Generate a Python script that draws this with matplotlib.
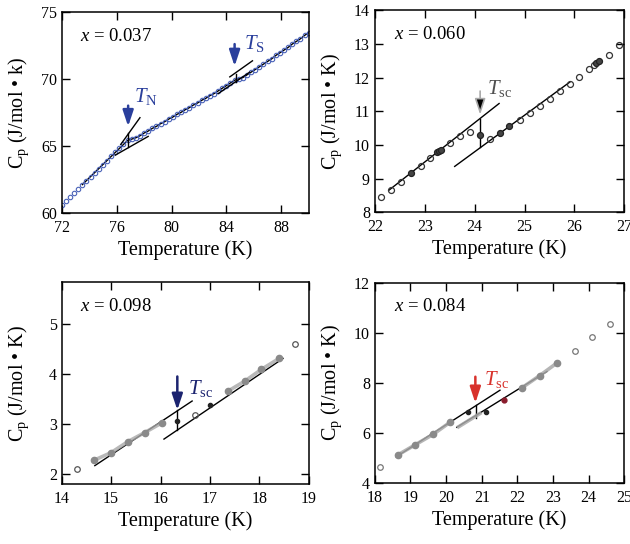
import matplotlib
matplotlib.use("Agg")
import matplotlib.pyplot as plt

plt.rcParams["font.family"] = ["Liberation Serif", "DejaVu Serif"]
plt.rcParams["mathtext.fontset"] = "custom"
plt.rcParams["mathtext.rm"] = "Liberation Serif"
plt.rcParams["mathtext.it"] = "Liberation Serif:italic"

# ---- x = 0.037 : dense scan with T_N and T_S kinks ----
t_037 = [72.0, 72.3, 72.6, 72.9, 73.2, 73.5, 73.8, 74.1, 74.4, 74.7, 75.0, 75.3,
         75.6, 75.9, 76.2, 76.5, 76.8, 77.1, 77.4, 77.7, 78.0, 78.3, 78.6, 78.9,
         79.2, 79.5, 79.8, 80.1, 80.4, 80.7, 81.0, 81.3, 81.6, 81.9, 82.2, 82.5,
         82.8, 83.1, 83.4, 83.7, 84.0, 84.3, 84.6, 84.9, 85.2, 85.5, 85.8, 86.1,
         86.4, 86.7, 87.0, 87.3, 87.6, 87.9, 88.2, 88.5, 88.8, 89.1, 89.4, 89.7, 90.0]
cp_037 = [60.6, 60.9, 61.2, 61.5, 61.8, 62.1, 62.4, 62.7, 63.0, 63.3, 63.6, 63.9,
          64.2, 64.5, 64.8, 65.1, 65.4, 65.5, 65.6, 65.75, 65.95, 66.1, 66.3, 66.45,
          66.65, 66.8, 67.0, 67.15, 67.35, 67.5, 67.7, 67.85, 68.05, 68.2, 68.4, 68.55,
          68.75, 68.9, 69.1, 69.3, 69.5, 69.7, 69.9, 70.0, 70.1, 70.3, 70.5, 70.7,
          70.9, 71.1, 71.3, 71.5, 71.75, 71.95, 72.15, 72.35, 72.6, 72.8, 73.0, 73.25, 73.45]
tn_steep = ([76.3, 77.7], [65.1, 67.1])
tn_flat = ([75.9, 78.3], [64.3, 65.7])
tn_step = ([76.84, 76.84], [64.9, 65.95])
ts_upper = ([84.25, 85.9], [70.15, 71.35])
ts_lower = ([83.4, 85.7], [68.9, 70.5])
ts_step = ([84.73, 84.73], [69.8, 70.4])

# ---- x = 0.060 ----
t_060_open = [22.13, 22.32, 22.52, 22.92, 23.10, 23.50, 23.70, 23.90, 24.31, 24.91,
              25.11, 25.31, 25.51, 25.71, 25.91, 26.10, 26.29, 26.39, 26.69, 26.89]
cp_060_open = [8.45, 8.66, 8.90, 9.38, 9.62, 10.07, 10.25, 10.38, 10.18, 10.75,
               10.95, 11.17, 11.37, 11.60, 11.82, 12.03, 12.27, 12.38, 12.68, 12.96]
t_060_fill = [22.72, 23.24, 23.28, 23.32, 24.11, 24.51, 24.69, 26.44, 26.49]
cp_060_fill = [9.16, 9.79, 9.82, 9.84, 10.30, 10.35, 10.55, 12.43, 12.48]
sc060_upper = ([22.28, 24.49], [8.65, 11.23])
sc060_lower = ([23.6, 25.91], [9.36, 11.87])
sc060_step = ([24.11, 24.11], [9.93, 10.78])

# ---- x = 0.098 ----
t_098_open = [14.30, 16.69, 18.72]
cp_098_open = [2.10, 3.19, 4.59]
t_098_gray_lo = [14.66, 15.00, 15.34, 15.68, 16.02]
cp_098_gray_lo = [2.28, 2.43, 2.65, 2.83, 3.02]
t_098_gray_hi = [17.37, 17.71, 18.04, 18.40]
cp_098_gray_hi = [3.66, 3.86, 4.09, 4.31]
t_098_black = [16.34, 17.01]
cp_098_black = [3.07, 3.39]
sc098_upper = ([14.67, 16.64], [2.17, 3.46])
sc098_lower = ([16.07, 18.48], [2.70, 4.31])
sc098_step = ([16.34, 16.34], [2.88, 3.28])

# ---- x = 0.084 ----
t_084_open = [18.14, 23.61, 24.09, 24.59]
cp_084_open = [4.65, 9.29, 9.82, 10.36]
t_084_gray_lo = [18.64, 19.12, 19.64, 20.11]
cp_084_gray_lo = [5.12, 5.52, 5.95, 6.43]
t_084_gray_mid = [20.35, 20.95]
cp_084_gray_mid = [6.25, 6.78]
t_084_gray_hi = [22.12, 22.62, 23.11]
cp_084_gray_hi = [7.80, 8.29, 8.80]
t_084_black = [20.62, 21.12]
cp_084_black = [6.85, 6.85]
t_084_red = [21.61]
cp_084_red = [7.32]
sc084_upper = ([18.6, 21.51], [5.05, 7.71])
sc084_lower = ([20.30, 22.83], [6.23, 8.46])
sc084_step = ([20.85, 20.85], [6.6, 7.12])

BLUE = "#2a3f9c"
NAVY = "#1c2470"
RED = "#d8322c"
GRAY = "#8a8a8a"
BAND = "#a8a8a8"

fig = plt.figure(figsize=(6.3, 5.44), dpi=100)
ax1 = fig.add_axes([0.098, 0.609, 0.392, 0.369])
ax2 = fig.add_axes([0.595, 0.610, 0.396, 0.371])
ax3 = fig.add_axes([0.098, 0.110, 0.392, 0.371])
ax4 = fig.add_axes([0.595, 0.112, 0.396, 0.368])


def style(ax, xlim, ylim, xticks, yticks, unit):
    ax.set_xlim(*xlim)
    ax.set_ylim(*ylim)
    ax.set_xticks(xticks)
    ax.set_yticks(yticks)
    ax.tick_params(direction="in", length=6, width=1, top=True, right=True,
                   labelsize=11.5)
    ax.tick_params(axis="x", pad=5)
    for s in ax.spines.values():
        s.set_linewidth(1.1)
    ax.set_xlabel("Temperature (K)", fontsize=14.5)
    ax.set_ylabel("C$_\\mathrm{p}$ (J/mol \u2022 " + unit + ")", fontsize=14.5)
    ax.xaxis.set_label_coords(0.5, -0.135)
    ax.yaxis.set_label_coords(-0.125, 0.5)


def seg(ax, line, color="black", lw=1.0):
    ax.plot(line[0], line[1], color=color, lw=lw)


def arrow(ax, x, y0, y1, color, shaft=None, lw=1.8):
    ax.annotate("", xy=(x, y1), xytext=(x, y0),
                arrowprops=dict(arrowstyle="-|>,head_length=0.6,head_width=0.2",
                                fc=color, ec=shaft or color, lw=lw,
                                mutation_scale=16, shrinkA=0, shrinkB=0))


# panel x = 0.037
style(ax1, (72, 90), (60, 75), [72, 76, 80, 84, 88], [60, 65, 70, 75], "k")
ax1.plot(t_037[5:], cp_037[5:], color="black", lw=1.0)
ax1.plot(t_037, cp_037, "o", ms=3.2, mfc="none", mec="#4a62b8", mew=0.8)
for ln in (tn_steep, tn_flat, tn_step, ts_upper, ts_lower, ts_step):
    seg(ax1, ln)
arrow(ax1, 76.84, 68.0, 66.45, BLUE)
arrow(ax1, 84.6, 72.6, 70.95, BLUE)
ax1.text(77.3, 68.3, "$T_\\mathrm{N}$", fontsize=15, color=BLUE)
ax1.text(85.3, 72.2, "$T_\\mathrm{S}$", fontsize=15, color=BLUE)
ax1.text(0.075, 0.88, "$x$ = 0.037", transform=ax1.transAxes, fontsize=13.5, va="center")

# panel x = 0.060
style(ax2, (22, 27), (8, 14), [22, 23, 24, 25, 26, 27], list(range(8, 15)), "K")
for ln in (sc060_upper, sc060_lower, sc060_step):
    seg(ax2, ln)
ax2.plot(t_060_open, cp_060_open, "o", ms=4.3, mfc="none", mec="#333333", mew=0.9)
ax2.plot(t_060_fill, cp_060_fill, "o", ms=4.3, mfc="#444444", mec="#222222", mew=0.9)
arrow(ax2, 24.11, 11.6, 10.9, "black", shaft="#aaaaaa", lw=1.2)
ax2.text(24.25, 11.5, "$T_\\mathrm{sc}$", fontsize=15, color="#505050")
ax2.text(0.075, 0.88, "$x$ = 0.060", transform=ax2.transAxes, fontsize=13.5, va="center")

# panel x = 0.098
style(ax3, (14, 19), (1.8, 5.83), [14, 15, 16, 17, 18, 19], [2, 3, 4, 5], "K")
for ln in (sc098_upper, sc098_lower, sc098_step):
    seg(ax3, ln)
ax3.plot(t_098_gray_lo, cp_098_gray_lo, "-", color=BAND, lw=2.6, alpha=0.8)
ax3.plot(t_098_gray_hi, cp_098_gray_hi, "-", color=BAND, lw=2.6, alpha=0.8)
ax3.plot(t_098_gray_lo + t_098_gray_hi, cp_098_gray_lo + cp_098_gray_hi, "o",
         ms=4.5, mfc=GRAY, mec=GRAY)
ax3.plot(t_098_black, cp_098_black, "o", ms=3, mfc="#222222", mec="#222222")
ax3.plot(t_098_open, cp_098_open, "o", ms=4, mfc="none", mec="#555555", mew=0.9)
arrow(ax3, 16.34, 3.95, 3.28, NAVY)
ax3.text(16.55, 3.6, "$T_\\mathrm{sc}$", fontsize=15, color=NAVY)
ax3.text(0.075, 0.88, "$x$ = 0.098", transform=ax3.transAxes, fontsize=13.5, va="center")

# panel x = 0.084
style(ax4, (18, 25), (4, 12), list(range(18, 26)), [4, 6, 8, 10, 12], "K")
for ln in (sc084_upper, sc084_lower, sc084_step):
    seg(ax4, ln)
for tt, cc in ((t_084_gray_lo, cp_084_gray_lo), (t_084_gray_mid, cp_084_gray_mid),
               (t_084_gray_hi, cp_084_gray_hi)):
    ax4.plot(tt, cc, "-", color=BAND, lw=2.6, alpha=0.85)
ax4.plot(t_084_gray_lo + t_084_gray_hi, cp_084_gray_lo + cp_084_gray_hi, "o",
         ms=4.5, mfc=GRAY, mec=GRAY)
ax4.plot(t_084_black, cp_084_black, "o", ms=3, mfc="#222222", mec="#222222")
ax4.plot(t_084_red, cp_084_red, "o", ms=3.5, mfc="#8a1c2c", mec="#8a1c2c")
ax4.plot(t_084_open, cp_084_open, "o", ms=4, mfc="none", mec="#777777", mew=0.9)
arrow(ax4, 20.82, 8.25, 7.2, RED)
ax4.text(21.05, 7.9, "$T_\\mathrm{sc}$", fontsize=15, color=RED)
ax4.text(0.075, 0.88, "$x$ = 0.084", transform=ax4.transAxes, fontsize=13.5, va="center")

fig.savefig("out.png", dpi=100)
